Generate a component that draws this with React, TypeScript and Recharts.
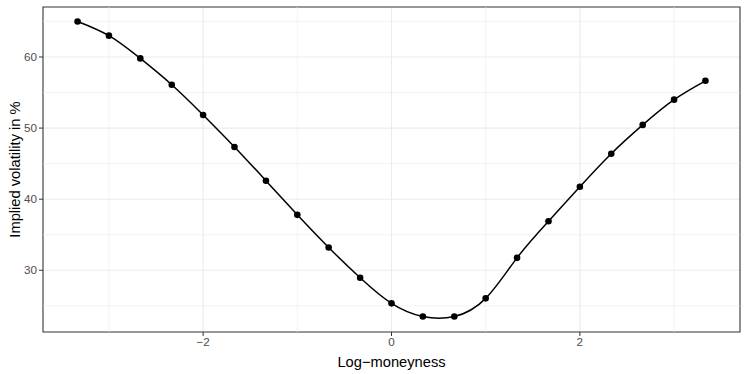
import React from 'react';
import { ComposedChart, Line, XAxis, YAxis, CartesianGrid, ReferenceLine, ReferenceArea } from 'recharts';

const moneyness = [-3.333, -3, -2.667, -2.333, -2, -1.667, -1.333, -1, -0.667, -0.333, 0, 0.333, 0.667, 1, 1.333, 1.667, 2, 2.333, 2.667, 3, 3.333];
const impliedVol = [65.0, 63.0, 59.8, 56.1, 51.85, 47.35, 42.6, 37.8, 33.2, 28.95, 25.35, 23.5, 23.5, 26.05, 31.75, 36.9, 41.75, 46.4, 50.45, 54.0, 56.65];

const xTicks = [-2, 0, 2];
const xMinor = [-3, -1, 1, 3];
const yTicks = [30, 40, 50, 60];
const yMinor = [25, 35, 45, 55, 65];

const data = moneyness.map((m, i) => ({ m, iv: impliedVol[i] }));

const X_DOMAIN: [number, number] = [-3.7, 3.7];
const Y_DOMAIN: [number, number] = [21.32, 67.03];

const fmt = (v: number) => (v < 0 ? `\u2212${Math.abs(v)}` : `${v}`);

export default function App() {
  return (
    <div style={{ position: 'absolute', left: 0, top: 0, width: 747, height: 374, background: '#fff', fontFamily: '"Liberation Sans", Arial, sans-serif' }}>
      <ComposedChart width={747} height={374} data={data} margin={{ top: 7, right: 7, bottom: 0, left: 0 }}>
        <CartesianGrid stroke="#EBEBEB" strokeWidth={1.1} horizontalValues={yTicks} verticalValues={xTicks} />
        {xMinor.map((v) => (
          <ReferenceLine key={`xm${v}`} x={v} stroke="#EBEBEB" strokeWidth={0.6} />
        ))}
        {yMinor.map((v) => (
          <ReferenceLine key={`ym${v}`} y={v} stroke="#EBEBEB" strokeWidth={0.6} />
        ))}
        <XAxis
          type="number"
          dataKey="m"
          domain={X_DOMAIN}
          ticks={xTicks}
          tickFormatter={fmt}
          allowDataOverflow
          height={42}
          axisLine={false}
          tickLine={{ stroke: '#333333', strokeWidth: 1 }}
          tickSize={4}
          tick={{ fill: '#4D4D4D', fontSize: 11.7 }}
          label={{ value: 'Log\u2212moneyness', position: 'insideBottom', offset: 7, fill: '#000', fontSize: 14.7 }}
        />
        <YAxis
          type="number"
          domain={Y_DOMAIN}
          ticks={yTicks}
          allowDataOverflow
          width={43}
          axisLine={false}
          tickLine={{ stroke: '#333333', strokeWidth: 1 }}
          tickSize={4}
          tick={{ fill: '#4D4D4D', fontSize: 11.7 }}
          label={{ value: 'Implied volatility in %', angle: -90, position: 'insideLeft', offset: 15, fill: '#000', fontSize: 14.7, style: { textAnchor: 'middle' } }}
        />
        <ReferenceArea x1={X_DOMAIN[0]} x2={X_DOMAIN[1]} y1={Y_DOMAIN[0]} y2={Y_DOMAIN[1]} fill="none" stroke="#333333" strokeWidth={1.1} ifOverflow="visible" />
        <Line
          type="natural"
          dataKey="iv"
          stroke="#000"
          strokeWidth={1.5}
          dot={{ r: 3.3, fill: '#000', stroke: '#000', strokeWidth: 0 }}
          activeDot={false}
          isAnimationActive={false}
        />
      </ComposedChart>
    </div>
  );
}
